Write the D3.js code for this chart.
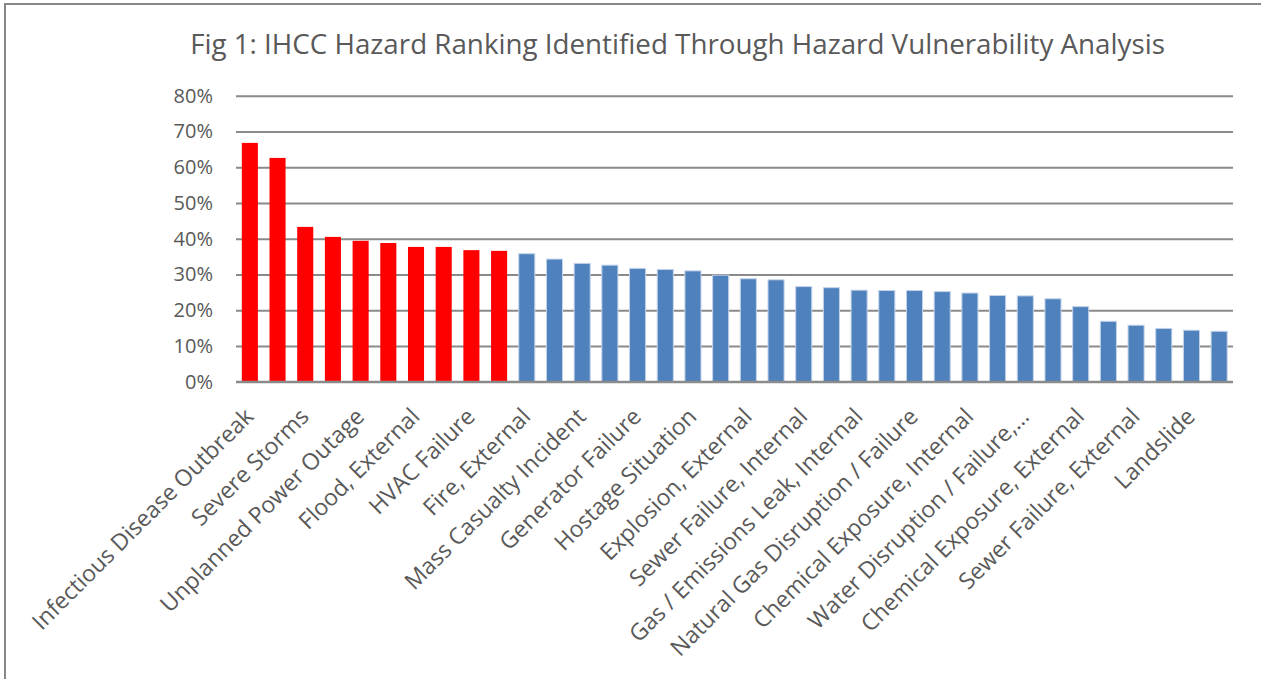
<!DOCTYPE html>
<html>
<head>
<meta charset="utf-8">
<script src="https://cdn.jsdelivr.net/npm/d3@7"></script>
<style>
  body { margin: 0; background: #fff; }
  text { font-family: "Open Sans", "Noto Sans", sans-serif; fill: #595959; }
</style>
</head>
<body>
<script>
// hazard names, one per bar (Excel only prints every other one)
var hazards = [
  "Infectious Disease Outbreak", "Winter Storms",
  "Severe Storms", "Communications Failure",
  "Unplanned Power Outage", "Temperature Extremes",
  "Flood, External", "Information Systems Failure",
  "HVAC Failure", "Fire, Internal",
  "Fire, External", "Flood, Internal",
  "Mass Casualty Incident", "Medical Gas Failure",
  "Generator Failure", "Bomb Threat",
  "Hostage Situation", "Supply Shortage",
  "Explosion, External", "Tornado",
  "Sewer Failure, Internal", "Structural Damage",
  "Gas / Emissions Leak, Internal", "Active Shooter",
  "Natural Gas Disruption / Failure", "Civil Disturbance",
  "Chemical Exposure, Internal", "Infant Abduction",
  "Water Disruption / Failure,\u2026", "Fuel Shortage",
  "Chemical Exposure, External", "Earthquake",
  "Sewer Failure, External", "Wildfire",
  "Landslide", "Drought"
];
// relative risk score
var risk = [
  0.668, 0.626, 0.433, 0.405, 0.394, 0.388, 0.377, 0.377, 0.368, 0.366,
  0.358, 0.343, 0.331, 0.326, 0.317, 0.314, 0.310, 0.298, 0.288, 0.285,
  0.266, 0.263, 0.256, 0.255, 0.255, 0.252, 0.248, 0.241, 0.240, 0.232,
  0.210, 0.169, 0.158, 0.149, 0.144, 0.141
];
var yTicks = [0, 0.1, 0.2, 0.3, 0.4, 0.5, 0.6, 0.7, 0.8];
var title = "Fig 1: IHCC Hazard Ranking Identified Through Hazard Vulnerability Analysis";
var topCount = 10; // highest ranked hazards drawn in red

var W = 1261, H = 679;
var plotL = 236, plotR = 1233, plotT = 95.7, plotB = 381.7;

var svg = d3.select("body").append("svg")
    .attr("width", W)
    .attr("height", H);

// chart border (runs off the right and bottom of the picture)
svg.append("rect")
    .attr("x", 5).attr("y", 4)
    .attr("width", W + 20).attr("height", H + 20)
    .attr("fill", "none")
    .attr("stroke", "#878787")
    .attr("stroke-width", 2);

var x = d3.scaleBand()
    .domain(hazards)
    .range([plotL, plotR])
    .paddingInner(0.42)
    .paddingOuter(0.21);

var y = d3.scaleLinear()
    .domain([0, 0.8])
    .range([plotB, plotT]);

/*===== gridlines + y labels =====*/
var yAxis = svg.append("g")
    .attr("transform", "translate(" + plotL + ",0)")
    .call(d3.axisLeft(y).tickValues(yTicks).tickFormat(d3.format(".0%")).tickSize(-(plotR - plotL)).tickPadding(23));
yAxis.select(".domain").remove();
yAxis.selectAll(".tick line")
    .attr("stroke", "#8a8a8a")
    .attr("stroke-width", 2);
yAxis.selectAll(".tick text")
    .attr("fill", "#595959")
    .style("font-family", null)
    .attr("font-family", null)
    .style("font-size", "20px");

/*===== bars =====*/
svg.selectAll("rect.bar")
    .data(risk)
    .enter()
    .append("rect")
    .attr("class", "bar")
    .attr("x", function(d, i) { return x(hazards[i]); })
    .attr("y", function(d) { return y(d); })
    .attr("width", x.bandwidth())
    .attr("height", function(d) { return y(0) - y(d); })
    .attr("fill", function(d, i) { return i < topCount ? "#ff0000" : "#4f81bd"; })
    .attr("stroke", function(d, i) { return i < topCount ? "none" : "#c3d3ea"; })
    .attr("stroke-width", 1);

// base line
svg.append("line")
    .attr("x1", plotL).attr("x2", plotR)
    .attr("y1", y(0)).attr("y2", y(0))
    .attr("stroke", "#8a8a8a")
    .attr("stroke-width", 2);

/*===== category labels (every other one) =====*/
svg.selectAll("text.cat")
    .data(hazards.filter(function(d, i) { return i % 2 == 0; }))
    .enter()
    .append("text")
    .attr("class", "cat")
    .attr("text-anchor", "end")
    .style("font-size", "23px")
    .attr("transform", function(d) {
      return "translate(" + (x(d) + x.bandwidth() / 2 + 5) + "," + 418 + ") rotate(-45)";
    })
    .text(function(d) { return d; });

/*===== title =====*/
var t = svg.append("text")
    .attr("x", 677.5)
    .attr("y", 54)
    .attr("text-anchor", "middle")
    .style("font-size", "26px")
    .text(title);
var tw = t.node().getComputedTextLength();
t.style("font-size", (26 * 975 / tw) + "px");
</script>
</body>
</html>
